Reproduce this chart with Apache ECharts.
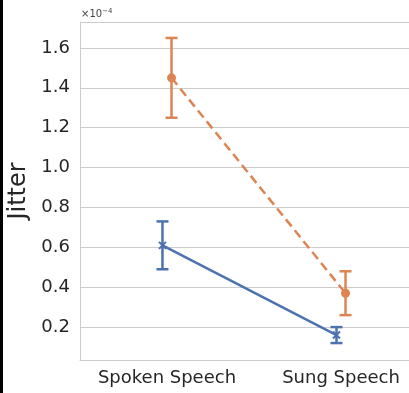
<!DOCTYPE html>
<html>
<head>
<meta charset="utf-8">
<script src="https://cdn.jsdelivr.net/npm/echarts@6/dist/echarts.min.js"></script>
<style>
  html, body { margin: 0; padding: 0; background: #fff; }
  #chart { width: 409px; height: 393px; }
</style>
</head>
<body>
<div id="chart"></div>
<script>
// categories on the x axis (placed at x = 0, 1)
const categories = ['Spoken Speech', 'Sung Speech'];

// values in units of 1e-4
const blueMean = [0.61, 0.16];
const blueLow = [0.49, 0.12];
const blueHigh = [0.73, 0.20];

const orangeMean = [1.45, 0.37];
const orangeLow = [1.25, 0.26];
const orangeHigh = [1.65, 0.48];

// hue dodge (in category units)
const dodge = 0.026;

const blue = '#4c72b0';
const orange = '#dd8452';
const textColor = '#262626';
const gridColor = '#cccccc';

const chart = echarts.init(document.getElementById('chart'));

// error bars + markers
const errorSeries = (name, means, lows, highs, offset, color, marker) => ({
  type: 'custom',
  name: name,
  z: 5,
  data: means.map((m, i) => [i + offset, m, lows[i], highs[i]]),
  renderItem: function (params, api) {
    const x = api.value(0);
    const pm = api.coord([x, api.value(1)]);
    const pl = api.coord([x, api.value(2)]);
    const ph = api.coord([x, api.value(3)]);
    const cap = 6;
    const style = { stroke: color, lineWidth: 2.5, fill: null };
    const children = [
      { type: 'line', shape: { x1: pl[0], y1: pl[1], x2: ph[0], y2: ph[1] }, style: style },
      { type: 'line', shape: { x1: ph[0] - cap, y1: ph[1], x2: ph[0] + cap, y2: ph[1] }, style: style },
      { type: 'line', shape: { x1: pl[0] - cap, y1: pl[1], x2: pl[0] + cap, y2: pl[1] }, style: style },
    ];
    if (marker === 'circle') {
      children.push({ type: 'circle', shape: { cx: pm[0], cy: pm[1], r: 4.5 }, style: { fill: color } });
    } else {
      const s = 3.5;
      children.push({ type: 'line', shape: { x1: pm[0] - s, y1: pm[1] - s, x2: pm[0] + s, y2: pm[1] + s }, style: { stroke: color, lineWidth: 2 } });
      children.push({ type: 'line', shape: { x1: pm[0] - s, y1: pm[1] + s, x2: pm[0] + s, y2: pm[1] - s }, style: { stroke: color, lineWidth: 2 } });
    }
    return { type: 'group', children: children };
  },
});

const lineSeries = (name, means, offset, color, dashed) => ({
  type: 'line',
  name: name,
  symbol: 'none',
  z: 3,
  data: means.map((m, i) => [i + offset, m]),
  lineStyle: { color: color, width: 2.5, type: dashed ? [9, 5] : 'solid' },
});

chart.setOption({
  animation: false,
  backgroundColor: '#fff',
  grid: { show: false, left: 80, top: 22, bottom: 33, width: 348, outerBoundsMode: 'none' },
  xAxis: {
    type: 'value',
    min: -0.5,
    max: 1.5,
    axisLine: { show: true, onZero: false, lineStyle: { color: gridColor, width: 1 } },
    axisTick: { show: false },
    axisLabel: {
      color: textColor,
      fontSize: 18,
      fontFamily: 'DejaVu Sans',
      margin: 9,
      customValues: [0, 1],
      formatter: (v) => categories[Math.round(v)],
    },
    splitLine: { show: false },
  },
  yAxis: {
    type: 'value',
    min: 0.035,
    max: 1.73,
    splitNumber: 8,
    axisLine: { show: true, onZero: false, lineStyle: { color: gridColor, width: 1 } },
    axisTick: { show: false },
    axisLabel: {
      color: textColor,
      fontSize: 18,
      fontFamily: 'DejaVu Sans',
      margin: 10,
      showMinLabel: false,
      showMaxLabel: false,
      formatter: (v) => v.toFixed(1),
    },
    splitLine: { show: true, lineStyle: { color: gridColor, width: 1 } },
  },
  graphic: [
    { type: 'rect', shape: { x: 0, y: 0, width: 3, height: 393 }, style: { fill: '#000' } },
    {
      type: 'text',
      x: 19,
      y: 191,
      rotation: Math.PI / 2,
      style: { text: 'Jitter', fill: textColor, font: '24px "DejaVu Sans"', align: 'center', verticalAlign: 'middle' },
    },
    {
      type: 'text',
      x: 81,
      y: 8,
      style: {
        text: '{a|×10}{s|−4}',
        rich: {
          a: { fontSize: 10, fontFamily: 'DejaVu Sans', fill: '#444' },
          s: { fontSize: 7, fontFamily: 'DejaVu Sans', fill: '#444', verticalAlign: 'top', padding: [0, 0, 5, 0] },
        },
      },
    },
  ],
  series: [
    lineSeries('blue', blueMean, -dodge, blue, false),
    lineSeries('orange', orangeMean, dodge, orange, true),
    errorSeries('blue err', blueMean, blueLow, blueHigh, -dodge, blue, 'x'),
    errorSeries('orange err', orangeMean, orangeLow, orangeHigh, dodge, orange, 'circle'),
  ],
});
</script>
</body>
</html>
